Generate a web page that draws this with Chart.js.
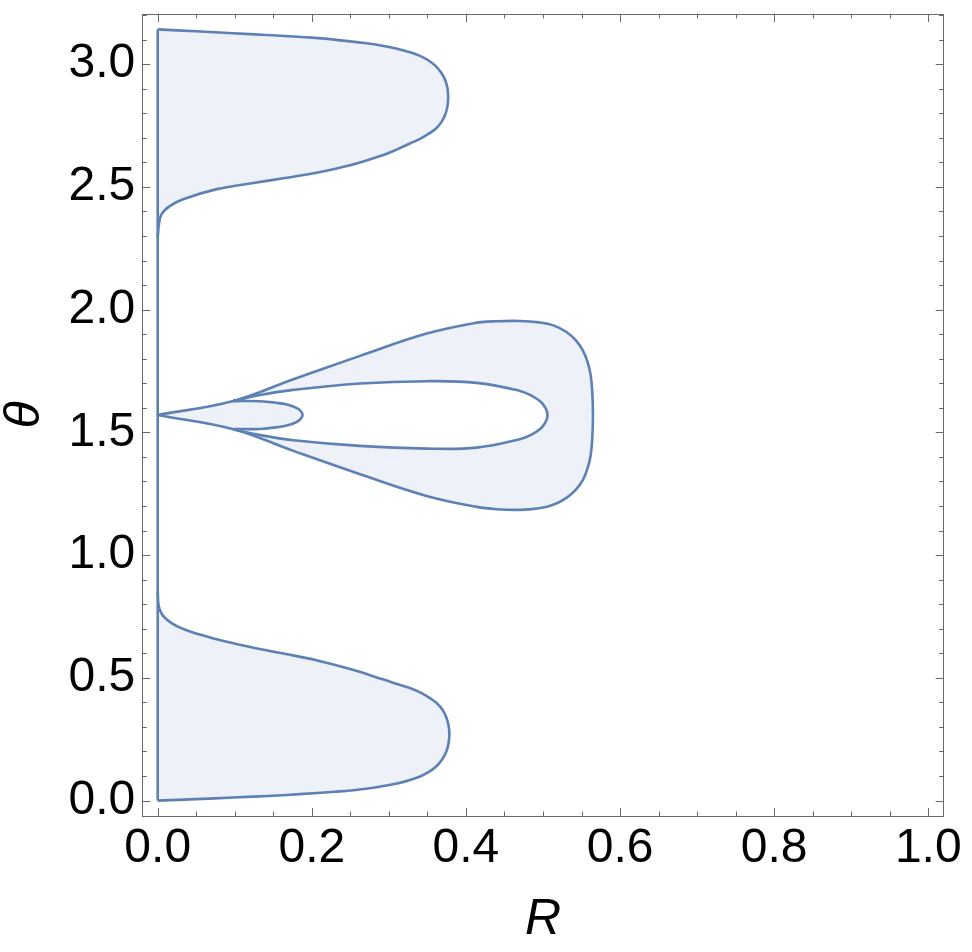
<!DOCTYPE html>
<html>
<head>
<meta charset="utf-8">
<script src="https://cdn.jsdelivr.net/npm/chart.js@4/dist/chart.umd.min.js"></script>
<style>
  html, body { margin: 0; padding: 0; background: #fff; }
  #wrap { width: 972px; height: 952px; }
</style>
</head>
<body>
<div id="wrap"><canvas id="myChart"></canvas></div>
<script>
// region boundaries, R (x) and theta (y)
const topR = [0, 0.05, 0.098, 0.141, 0.20, 0.2496, 0.2712, 0.2898, 0.3092, 0.3261, 0.3404, 0.3515, 0.3605, 0.3677, 0.3729, 0.3759, 0.377,
    0.3759, 0.3729, 0.3679, 0.3612, 0.3534, 0.3404, 0.3274, 0.3106, 0.2928, 0.2496, 0.206, 0.163, 0.120, 0.0766, 0.033, 0.016, 0.005, 0.0015, 0];
const topTheta = [3.1416, 3.134, 3.126, 3.119, 3.108, 3.093, 3.085, 3.076, 3.064, 3.050, 3.034, 3.015, 2.993, 2.966, 2.937, 2.904, 2.864,
    2.826, 2.793, 2.763, 2.738, 2.720, 2.696, 2.677, 2.653, 2.630, 2.588, 2.558, 2.535, 2.514, 2.491, 2.450, 2.423, 2.389, 2.345, 2.29];

const bottomR = [0, 0.05, 0.098, 0.15, 0.1847, 0.23, 0.2510, 0.2727, 0.2912, 0.3107, 0.3276, 0.3419, 0.3529, 0.3620, 0.3691, 0.3743, 0.3773, 0.3785,
    0.3773, 0.3743, 0.3694, 0.3626, 0.3548, 0.3419, 0.3289, 0.3120, 0.2942, 0.2510, 0.206, 0.163, 0.120, 0.0766, 0.042, 0.020, 0.007, 0.0015, 0];
const bottomTheta = [0, 0.006, 0.0124, 0.020, 0.0263, 0.036, 0.0409, 0.0495, 0.0585, 0.0699, 0.0841, 0.1004, 0.1187, 0.1411, 0.1676, 0.1982, 0.2308, 0.27,
    0.3081, 0.3407, 0.3713, 0.3957, 0.4141, 0.4385, 0.4568, 0.4735, 0.4919, 0.5346, 0.572, 0.599, 0.626, 0.6575, 0.6887, 0.719, 0.7525, 0.79, 0.85];

const lobeR = [0, 0.0981, 0.176, 0.2626, 0.349, 0.414, 0.44, 0.470, 0.495, 0.5134, 0.530, 0.543, 0.552, 0.558, 0.562, 0.564, 0.5648,
    0.564, 0.562, 0.558, 0.552, 0.543, 0.530, 0.5134, 0.495, 0.470, 0.44, 0.414, 0.349, 0.2626, 0.176, 0.0981, 0];
const lobeTheta = [1.5708, 1.6283, 1.7166, 1.8116, 1.9025, 1.947, 1.953, 1.954, 1.948, 1.936, 1.910, 1.874, 1.832, 1.785, 1.73, 1.66, 1.5708,
    1.48, 1.41, 1.355, 1.308, 1.268, 1.232, 1.205, 1.191, 1.1843, 1.187, 1.1965, 1.2413, 1.3297, 1.4246, 1.513, 1.5708];

const holeR = [0.0981, 0.1328, 0.176, 0.2626, 0.349, 0.414, 0.470, 0.485, 0.497, 0.5025, 0.5052, 0.5057, 0.5052, 0.5025, 0.497, 0.485, 0.470, 0.414, 0.349, 0.2626, 0.176, 0.1328, 0.0981];
const holeTheta = [1.6283, 1.652, 1.673, 1.699, 1.7085, 1.7017, 1.669, 1.650, 1.625, 1.603, 1.585, 1.5708, 1.556, 1.538, 1.516, 1.491, 1.4722, 1.438, 1.434, 1.445, 1.468, 1.489, 1.513];

const smallR = [0.0981, 0.1328, 0.155, 0.170, 0.180, 0.1855, 0.188, 0.1855, 0.180, 0.170, 0.155, 0.1328, 0.0981];
const smallTheta = [1.6275, 1.627, 1.620, 1.612, 1.600, 1.587, 1.5708, 1.555, 1.542, 1.530, 1.521, 1.514, 1.514];

const edgeR = [0, 0];
const edgeTheta = [0, 3.1416];

// axes
const rMin = -0.02, rMax = 1.02, rStep = 0.05, rMajor = 0.2;
const thetaMin = -0.0628, thetaMax = 3.2044, thetaStep = 0.1, thetaMajor = 0.5;

const lineColor = 'rgb(94,129,181)';
const fillColor = 'rgb(238,241,247)';
const frameColor = 'rgb(105,105,105)';

function pts(xs, ys) {
    return xs.map((x, i) => ({x: x, y: ys[i]}));
}

function isMajor(v, step) {
    return Math.abs(v / step - Math.round(v / step)) < 1e-6;
}

function region(xs, ys, bg, fill) {
    return {
        data: pts(xs, ys),
        showLine: true,
        borderColor: lineColor,
        borderWidth: 2.6,
        backgroundColor: bg,
        fill: fill,
        pointRadius: 0,
        tension: 0.4
    };
}

// frame with inward ticks on all four sides
const frameTicks = {
    id: 'frameTicks',
    afterDatasetsDraw(chart) {
        const ctx = chart.ctx;
        const a = chart.chartArea;
        const xs = chart.scales.x, ys = chart.scales.y;
        ctx.save();
        ctx.strokeStyle = frameColor;
        ctx.lineWidth = 1;
        ctx.beginPath();
        xs.ticks.forEach(t => {
            const px = Math.round(xs.getPixelForValue(t.value)) + 0.5;
            const len = isMajor(t.value, rMajor) ? 8 : 4.5;
            ctx.moveTo(px, a.bottom); ctx.lineTo(px, a.bottom - len);
            ctx.moveTo(px, a.top); ctx.lineTo(px, a.top + len);
        });
        ys.ticks.forEach(t => {
            const py = Math.round(ys.getPixelForValue(t.value)) + 0.5;
            const len = isMajor(t.value, thetaMajor) ? 8 : 4.5;
            ctx.moveTo(a.left, py); ctx.lineTo(a.left + len, py);
            ctx.moveTo(a.right, py); ctx.lineTo(a.right - len, py);
        });
        ctx.stroke();
        ctx.strokeRect(Math.round(a.left) + 0.5, Math.round(a.top) + 0.5,
            Math.round(a.right - a.left), Math.round(a.bottom - a.top));
        ctx.restore();
    }
};

const tickFont = {family: 'Liberation Sans, Arial, sans-serif', size: 48, lineHeight: 1};
const titleFont = {family: 'Liberation Sans, Arial, sans-serif', size: 50, style: 'italic', lineHeight: 1};

new Chart(document.getElementById('myChart'), {
    type: 'scatter',
    data: {
        datasets: [
            region(smallR, smallTheta, fillColor, 'shape'),
            region(holeR, holeTheta, '#ffffff', 'shape'),
            region(lobeR, lobeTheta, fillColor, 'shape'),
            region(topR, topTheta, fillColor, 'shape'),
            region(bottomR, bottomTheta, fillColor, 'shape'),
            region(edgeR, edgeTheta, fillColor, false)
        ]
    },
    options: {
        responsive: true,
        maintainAspectRatio: false,
        animation: false,
        layout: {padding: {left: 0, right: 28.3, top: 14, bottom: 0}},
        plugins: {
            legend: {display: false},
            tooltip: {enabled: false},
            filler: {drawTime: 'beforeDatasetsDraw'}
        },
        scales: {
            x: {
                type: 'linear',
                min: rMin,
                max: rMax,
                grid: {display: false, drawTicks: false},
                border: {display: false},
                ticks: {
                    stepSize: rStep,
                    includeBounds: false,
                    autoSkip: false,
                    maxRotation: 0,
                    padding: 9,
                    color: '#000',
                    font: tickFont,
                    callback: v => isMajor(v, rMajor) ? v.toFixed(1) : ''
                },
                title: {display: true, text: 'R', color: '#000', font: titleFont, padding: {top: 0, bottom: 7}},
                afterFit: s => {
                    s.height = 136;
                    s.paddingLeft = 0; s.paddingRight = 0; s.paddingTop = 0; s.paddingBottom = 0;
                }
            },
            y: {
                type: 'linear',
                min: thetaMin,
                max: thetaMax,
                grid: {display: false, drawTicks: false},
                border: {display: false},
                ticks: {
                    stepSize: thetaStep,
                    includeBounds: false,
                    autoSkip: false,
                    padding: 7,
                    color: '#000',
                    font: tickFont,
                    callback: v => isMajor(v, thetaMajor) ? v.toFixed(1) : ''
                },
                title: {display: true, text: 'θ', color: '#000', font: titleFont, padding: {top: 0, bottom: 0}},
                afterFit: s => {
                    s.width = 142.3;
                    s.paddingLeft = 0; s.paddingRight = 0; s.paddingTop = 0; s.paddingBottom = 0;
                }
            }
        }
    },
    plugins: [frameTicks]
});
</script>
</body>
</html>
